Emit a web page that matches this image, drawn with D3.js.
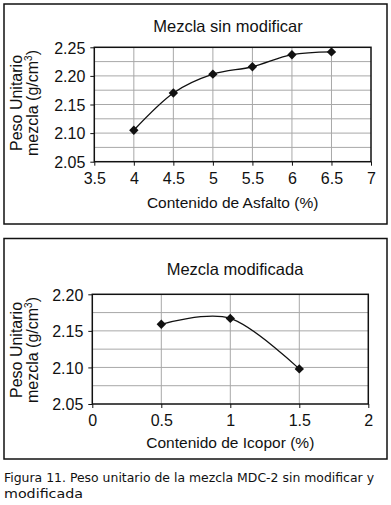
<!DOCTYPE html>
<html>
<head>
<meta charset="utf-8">
<script src="https://cdn.jsdelivr.net/npm/d3@7"></script>
<style>
  body { margin: 0; background: #fff; }
  svg text { font-family: "Liberation Sans", Arial, sans-serif; }
  .grid line { stroke: #a8a8a8; stroke-width: 1; }
  .tick text { font-size: 16px; fill: #111; }
  svg text.caption { font-family: "DejaVu Sans", sans-serif; }
</style>
</head>
<body>
<div class="figura"></div>
<script>
// datos
const asfalto = [4, 4.5, 5, 5.5, 6, 6.5]
const pesoSinModificar = [2.105, 2.170, 2.203, 2.216, 2.237, 2.242]
const ticksAsfalto = [3.5, 4, 4.5, 5, 5.5, 6, 6.5, 7]
const ticksPesoSup = [2.05, 2.10, 2.15, 2.20, 2.25]
const gridPesoSup = [2.075, 2.10, 2.125, 2.15, 2.175, 2.20, 2.225]

const icopor = [0.5, 1, 1.5]
const pesoModificada = [2.159, 2.167, 2.098]
const ticksIcopor = [0, 0.5, 1, 1.5, 2]
const ticksPesoInf = [2.05, 2.10, 2.15, 2.20]
const gridPesoInf = [2.075, 2.10, 2.125, 2.15, 2.175]

const width = 391
const height = 505

const svg = d3.select(".figura")
    .append("svg")
    .attr("width", width)
    .attr("height", height)

svg.append("rect").attr("width", width).attr("height", height).attr("fill", "#fff")

function drawPanel(opt) {

    const g = svg.append("g")

    // marco exterior
    g.append("rect")
        .attr("x", 4).attr("y", opt.boxTop)
        .attr("width", 383).attr("height", opt.boxBottom - opt.boxTop)
        .attr("fill", "none")
        .attr("stroke", "#111")
        .attr("stroke-width", 1.5)

    const x = d3.scaleLinear().domain(opt.xDomain).range([opt.left, opt.right])
    const y = d3.scaleLinear().domain(opt.yDomain).range([opt.bottom, opt.top])

    // rejilla
    const grid = g.append("g").attr("class", "grid")
    grid.selectAll(".h").data(opt.yGrid).join("line")
        .attr("x1", opt.left).attr("x2", opt.right)
        .attr("y1", d => y(d)).attr("y2", d => y(d))
    grid.selectAll(".v").data(opt.xTicks.slice(1, -1)).join("line")
        .attr("y1", opt.top).attr("y2", opt.bottom)
        .attr("x1", d => x(d)).attr("x2", d => x(d))

    // borde del area
    g.append("rect")
        .attr("x", opt.left).attr("y", opt.top)
        .attr("width", opt.right - opt.left).attr("height", opt.bottom - opt.top)
        .attr("fill", "none")
        .attr("stroke", "#111")
        .attr("stroke-width", 1.5)

    const xAxis = g.append("g")
        .attr("transform", `translate(0,${opt.bottom})`)
        .call(d3.axisBottom(x).tickValues(opt.xTicks).tickFormat(d3.format("~g")).tickSize(4).tickPadding(7))
        .attr("font-family", null).attr("font-size", null)
    xAxis.select(".domain").remove()
    xAxis.selectAll(".tick line").attr("stroke", "#111")

    const yAxis = g.append("g")
        .attr("transform", `translate(${opt.left},0)`)
        .call(d3.axisLeft(y).tickValues(opt.yTicks).tickFormat(d3.format(".2f")).tickSize(4).tickPadding(5))
        .attr("font-family", null).attr("font-size", null)
    yAxis.select(".domain").remove()
    yAxis.selectAll(".tick line").attr("stroke", "#111")
    yAxis.selectAll(".tick text").attr("dy", "0.36em")

    const points = opt.xs.map((d, i) => [d, opt.ys[i]])

    const line = d3.line()
        .x(d => x(d[0]))
        .y(d => y(d[1]))
        .curve(d3.curveCatmullRom.alpha(0))

    g.append("path")
        .datum(points)
        .attr("d", line)
        .attr("fill", "none")
        .attr("stroke", "#111")
        .attr("stroke-width", 1.3)

    g.selectAll(".marker")
        .data(points)
        .join("path")
        .attr("class", "marker")
        .attr("d", d3.symbol(d3.symbolSquare, 44))
        .attr("transform", d => `translate(${x(d[0])},${y(d[1])}) rotate(45)`)
        .attr("fill", "#111")

    // titulo
    g.append("text")
        .attr("x", opt.titleX).attr("y", opt.titleY)
        .attr("text-anchor", "middle")
        .attr("font-size", 16.5)
        .attr("fill", "#111")
        .text(opt.title)

    g.append("text")
        .attr("x", (opt.left + opt.right) / 2).attr("y", opt.xLabelY)
        .attr("text-anchor", "middle")
        .attr("font-size", 15.5)
        .attr("fill", "#111")
        .text(opt.xLabel)

    const yl = g.append("text")
        .attr("transform", `translate(0,${opt.yLabelMid}) rotate(-90)`)
        .attr("text-anchor", "middle")
        .attr("font-size", 16)
        .attr("fill", "#111")
    yl.append("tspan").attr("x", 0).attr("y", 22).text("Peso Unitario")
    const l2 = yl.append("tspan").attr("x", 0).attr("y", 38)
    l2.append("tspan").text("mezcla (g/cm")
    l2.append("tspan").attr("font-size", 10).attr("dy", -6).text("3")
    l2.append("tspan").attr("dy", 6).text(")")
}

drawPanel({
    boxTop: 4, boxBottom: 224,
    left: 94.3, right: 371, top: 47.3, bottom: 161.7,
    xDomain: [3.5, 7], yDomain: [2.05, 2.25],
    xTicks: ticksAsfalto, yTicks: ticksPesoSup, yGrid: gridPesoSup,
    xs: asfalto, ys: pesoSinModificar,
    title: "Mezcla sin modificar", titleX: 228, titleY: 32,
    xLabel: "Contenido de Asfalto (%)", xLabelY: 208,
    yLabelMid: 103
})

drawPanel({
    boxTop: 238.5, boxBottom: 459,
    left: 92.3, right: 368.3, top: 294.3, bottom: 404,
    xDomain: [0, 2], yDomain: [2.05, 2.20],
    xTicks: ticksIcopor, yTicks: ticksPesoInf, yGrid: gridPesoInf,
    xs: icopor, ys: pesoModificada,
    title: "Mezcla modificada", titleX: 235, titleY: 275,
    xLabel: "Contenido de Icopor (%)", xLabelY: 448,
    yLabelMid: 350
})

// pie de figura
svg.append("text")
    .attr("class", "caption")
    .attr("x", 4).attr("y", 482)
    .attr("font-size", 12)
    .attr("textLength", 370)
    .attr("lengthAdjust", "spacingAndGlyphs")
    .attr("fill", "#111")
    .text("Figura 11. Peso unitario de la mezcla MDC-2 sin modificar y")

svg.append("text")
    .attr("class", "caption")
    .attr("x", 4).attr("y", 498)
    .attr("font-size", 12)
    .attr("textLength", 79)
    .attr("lengthAdjust", "spacingAndGlyphs")
    .attr("fill", "#111")
    .text("modificada")
</script>
</body>
</html>
